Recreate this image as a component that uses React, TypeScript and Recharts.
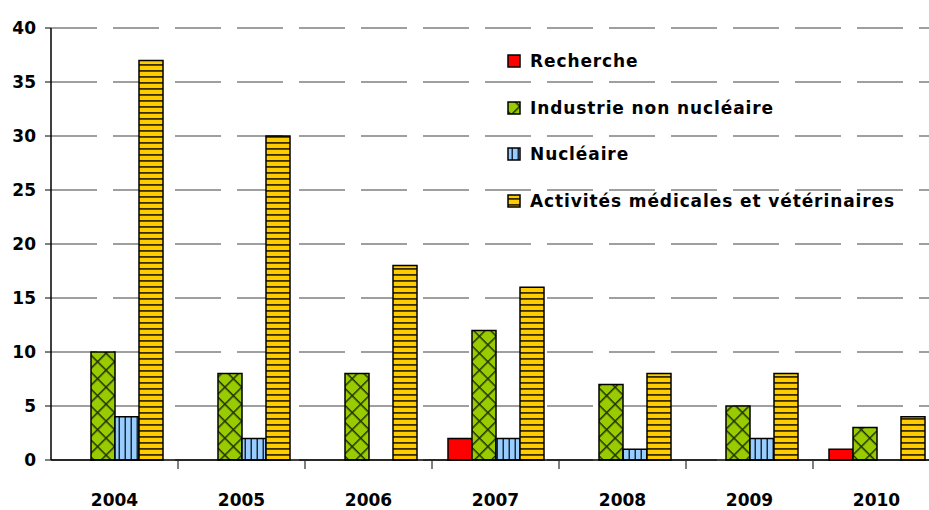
import React from 'react';
import { BarChart, Bar, XAxis, YAxis, CartesianGrid } from 'recharts';

const years = ['2004', '2005', '2006', '2007', '2008', '2009', '2010'];
const recherche = [0, 0, 0, 2, 0, 0, 1];
const industrie = [10, 8, 8, 12, 7, 5, 3];
const nucleaire = [4, 2, 0, 2, 1, 2, 0];
const medical = [37, 30, 18, 16, 8, 8, 4];
const yTicks = [0, 5, 10, 15, 20, 25, 30, 35, 40];

const seriesNames = [
  'Recherche',
  'Industrie non nucléaire',
  'Nucléaire',
  'Activités médicales et vétérinaires',
];
const seriesFills = ['#FF0000', 'url(#pGreen)', 'url(#pBlue)', 'url(#pYellow)'];

const data = years.map((y, i) => ({
  year: y,
  r: recherche[i],
  ind: industrie[i],
  nuc: nucleaire[i],
  med: medical[i],
}));

const FONT = '"DejaVu Sans", sans-serif';
const W = 929;
const H = 510;
const ML = 51;
const MR = -11;
const NCAT = years.length;

const XTick = (props: any) => {
  const { x, y, payload, index } = props;
  const bw = (W - ML - MR) / NCAT;
  return (
    <g>
      {index > 0 && (
        <line x1={x - bw / 2} x2={x - bw / 2} y1={y - 7} y2={y + 1} stroke="#000" strokeWidth={1} />
      )}
      <text x={x} y={y + 38} textAnchor="middle" fontFamily={FONT} fontWeight="bold" fontSize={17} fill="#000">
        {payload.value}
      </text>
    </g>
  );
};

const LegendBox = () => (
  <div
    style={{
      position: 'absolute',
      left: 507,
      top: 38,
      fontFamily: FONT,
      fontWeight: 'bold',
      fontSize: 17,
      color: '#000',
      whiteSpace: 'nowrap',
    }}
  >
    {seriesNames.map((n, i) => (
      <div key={n} style={{ display: 'flex', alignItems: 'center', height: 46.5 }}>
        <svg width={14} height={14} style={{ marginRight: 9 }}>
          <rect x={1} y={1} width={12} height={12} fill={seriesFills[i]} stroke="#000" strokeWidth={1.5} />
        </svg>
        <span style={{ letterSpacing: 0.9 }}>{n}</span>
      </div>
    ))}
  </div>
);

export default function App() {
  return (
    <div style={{ position: 'absolute', left: 0, top: 0, width: W, height: H, background: '#fff', overflow: 'hidden' }}>
      <BarChart
        width={W}
        height={H}
        data={data}
        margin={{ top: 28, right: MR, bottom: 0, left: 0 }}
        barSize={24}
        barGap={0}
        style={{ overflow: 'hidden' }}
      >
        <defs>
          <pattern id="pYellow" patternUnits="userSpaceOnUse" width={8} height={6}>
            <rect width={8} height={6} fill="#FFCC00" />
            <rect y={4} width={8} height={1.8} fill="#3a2e00" />
          </pattern>
          <pattern id="pBlue" patternUnits="userSpaceOnUse" width={6} height={8}>
            <rect width={6} height={8} fill="#99CCFF" />
            <rect x={4.5} width={1.5} height={8} fill="#1a2a3a" />
          </pattern>
          <pattern id="pGreen" patternUnits="userSpaceOnUse" width={12} height={12} patternTransform="rotate(45)">
            <rect width={12} height={12} fill="#99CC00" />
            <rect x={0} y={0} width={1.5} height={12} fill="#203000" />
            <rect x={0} y={6} width={12} height={1.5} fill="#203000" />
          </pattern>
        </defs>
        <CartesianGrid vertical={false} stroke="#808080" strokeWidth={1.5} strokeDasharray="46 16" />
        <XAxis
          dataKey="year"
          axisLine={{ stroke: '#000', strokeWidth: 1.5 }}
          tickLine={false}
          tick={<XTick />}
          interval={0}
          height={50}
        />
        <YAxis
          domain={[0, 40]}
          ticks={yTicks}
          width={ML}
          axisLine={{ stroke: '#000', strokeWidth: 1.5 }}
          tickLine={{ stroke: '#000' }}
          tickSize={6}
          tickMargin={9}
          tick={{ fontFamily: FONT, fontWeight: 'bold', fontSize: 17, fill: '#000' }}
          interval={0}
        />
        <Bar dataKey="r" name={seriesNames[0]} fill={seriesFills[0]} stroke="#000" strokeWidth={1.5} isAnimationActive={false} />
        <Bar dataKey="ind" name={seriesNames[1]} fill={seriesFills[1]} stroke="#000" strokeWidth={1.5} isAnimationActive={false} />
        <Bar dataKey="nuc" name={seriesNames[2]} fill={seriesFills[2]} stroke="#000" strokeWidth={1.5} isAnimationActive={false} />
        <Bar dataKey="med" name={seriesNames[3]} fill={seriesFills[3]} stroke="#000" strokeWidth={1.5} isAnimationActive={false} />
      </BarChart>
      <LegendBox />
    </div>
  );
}
